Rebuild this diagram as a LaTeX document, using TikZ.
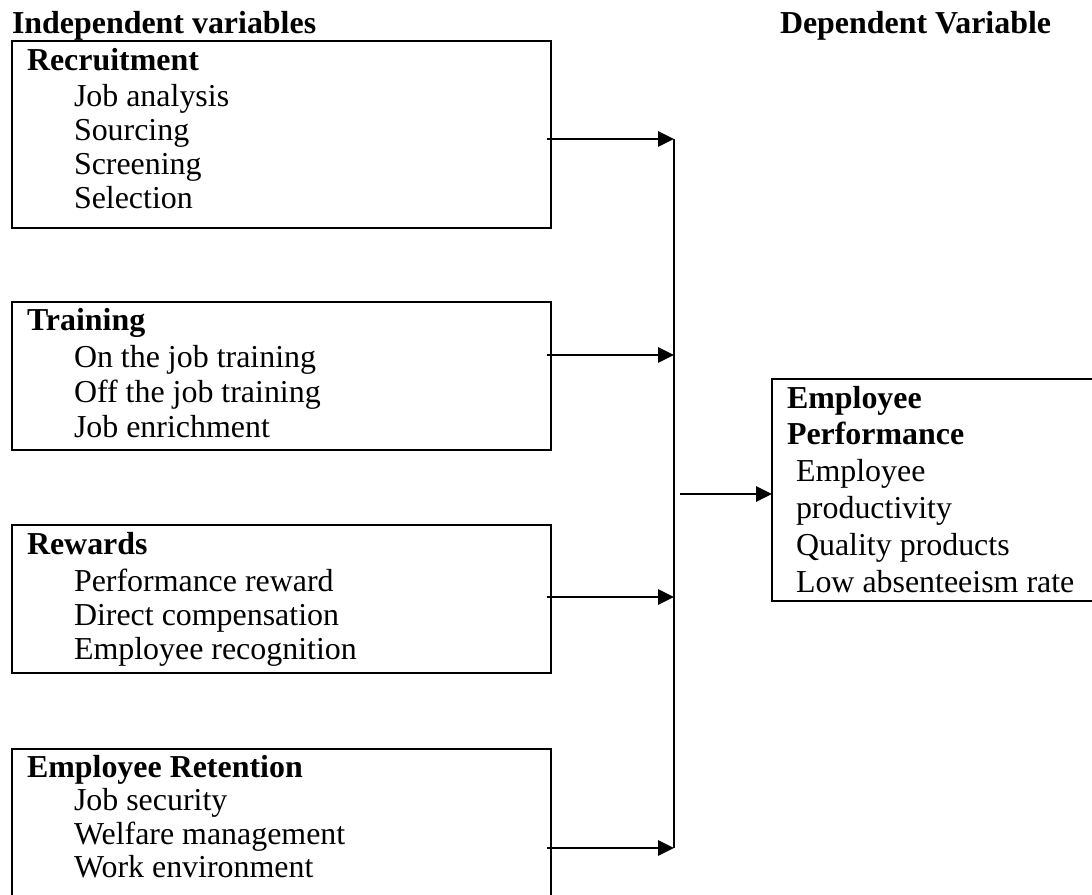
\documentclass[tikz,border=0pt]{standalone}
\usepackage{fontspec}
\setmainfont{Liberation Serif}
\usetikzlibrary{arrows.meta,fit,calc}

\begin{document}
\begin{tikzpicture}[
    x=0.3759pt, y=-0.3759pt,
    every node/.style={inner sep=0pt, outer sep=0pt},
    box/.style={draw=black, line width=0.8pt, inner sep=0pt},
    head/.style={anchor=base west, font=\fontsize{12}{14}\selectfont\bfseries},
    title/.style={anchor=base west, font=\fontsize{12}{14}\selectfont\bfseries},
    item/.style={anchor=base west, font=\fontsize{12}{14}\selectfont},
    feed/.style={line width=1.1pt, -{Triangle[length=6pt, width=5.6pt]}},
    spine/.style={line width=0.6pt}
  ]
  \useasboundingbox (0,0) rectangle (1092,894);

  % column headings
  \node[head] (hind) at (12,33) {Independent variables};
  \node[head] (hdep) at (780,33) {Dependent Variable};

  % independent variable boxes
  \node[box, fit={(12,41) (551,228)}] (rec) {};
  \node[title] (rect) at (27,70) {Recruitment};
  \node[item] (rec1) at (74,106) {Job analysis};
  \node[item] (rec2) at (74,140) {Sourcing};
  \node[item] (rec3) at (74,174) {Screening};
  \node[item] (rec4) at (74,208) {Selection};

  \node[box, fit={(12,302) (551,450)}] (tra) {};
  \node[title] (trat) at (27,330) {Training};
  \node[item] (tra1) at (74,367) {On the job training};
  \node[item] (tra2) at (74,402) {Off the job training};
  \node[item] (tra3) at (74,437) {Job enrichment};

  \node[box, fit={(12,525) (551,673)}] (rew) {};
  \node[title] (rewt) at (27,554) {Rewards};
  \node[item] (rew1) at (74,591) {Performance reward};
  \node[item] (rew2) at (74,625) {Direct compensation};
  \node[item] (rew3) at (74,659) {Employee recognition};

  \node[box, fit={(12,749) (551,897)}] (ret) {};
  \node[title] (rett) at (27,777) {Employee Retention};
  \node[item] (ret1) at (74,810) {Job security};
  \node[item] (ret2) at (74,844) {Welfare management};
  \node[item] (ret3) at (74,877) {Work environment};

  % dependent variable box
  \node[box, fit={(772,379) (1094,601)}] (perf) {};
  \node[title] (perft1) at (787,408) {Employee};
  \node[title] (perft2) at (787,444.8) {Performance};
  \node[item] (perf1) at (796,481.6) {Employee};
  \node[item] (perf2) at (796,518.4) {productivity};
  \node[item] (perf3) at (796,555.2) {Quality products};
  \node[item] (perf4) at (796,592) {Low absenteeism rate};

  % collecting line
  \coordinate (s1) at (674,139);
  \coordinate (s2) at (674,355);
  \coordinate (s3) at (674,597);
  \coordinate (s4) at (674,848);
  \coordinate (s5) at (680,494);
  \draw[spine] (s1) -- (s4);

  % arrows into the collecting line
  \draw[feed] ($(rec.east |- s1)+(-4,0)$) -- (s1);
  \draw[feed] ($(tra.east |- s2)+(-4,0)$) -- (s2);
  \draw[feed] ($(rew.east |- s3)+(-4,0)$) -- (s3);
  \draw[feed] ($(ret.east |- s4)+(-4,0)$) -- (s4);

  % arrow to the dependent variable
  \draw[feed] (s5) -- (perf.west |- s5);
\end{tikzpicture}
\end{document}
